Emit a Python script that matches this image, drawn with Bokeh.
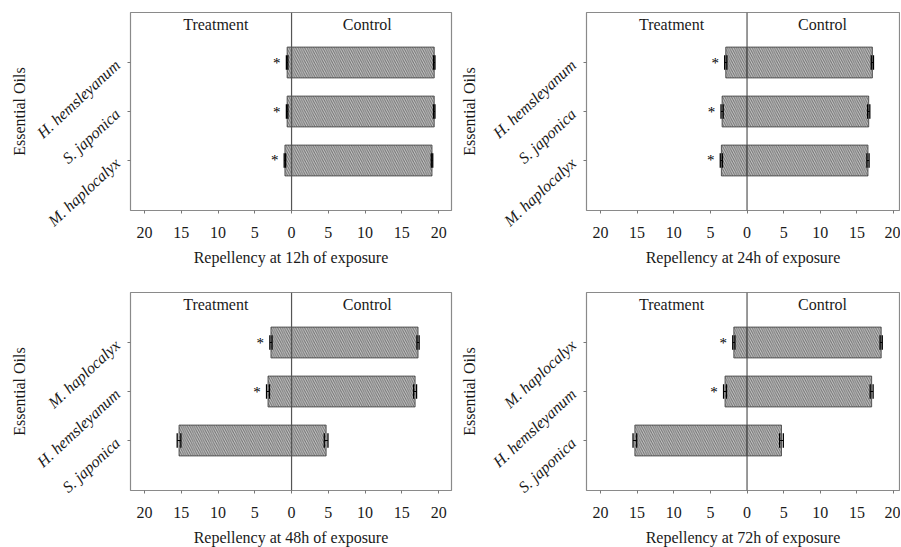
from bokeh.plotting import figure
from bokeh.layouts import column, row
from bokeh.models import FactorRange, Range1d, FixedTicker, Span, Label, ColumnDataSource
from bokeh.embed import file_html
from bokeh.resources import INLINE
from bokeh.core.properties import value

# ---- data (bottom -> top) ----
oils_12 = ["M. haplocalyx", "S. japonica", "H. hemsleyanum"]
treat_12 = [0.9, 0.6, 0.6]
ctrl_12 = [19.1, 19.4, 19.4]
treat_se_12 = [0.1, 0.1, 0.1]
ctrl_se_12 = [0.1, 0.1, 0.1]
sig_12 = [True, True, True]

oils_24 = ["M. haplocalyx", "S. japonica", "H. hemsleyanum"]
treat_24 = [3.5, 3.4, 2.9]
ctrl_24 = [16.5, 16.6, 17.1]
treat_se_24 = [0.15, 0.15, 0.15]
ctrl_se_24 = [0.15, 0.15, 0.15]
sig_24 = [True, True, True]

oils_48 = ["S. japonica", "H. hemsleyanum", "M. haplocalyx"]
treat_48 = [15.3, 3.2, 2.8]
ctrl_48 = [4.7, 16.8, 17.2]
treat_se_48 = [0.25, 0.2, 0.15]
ctrl_se_48 = [0.25, 0.2, 0.15]
sig_48 = [False, True, True]

oils_72 = ["S. japonica", "H. hemsleyanum", "M. haplocalyx"]
treat_72 = [15.3, 3.0, 1.8]
ctrl_72 = [4.7, 17.0, 18.3]
treat_se_72 = [0.25, 0.2, 0.15]
ctrl_se_72 = [0.25, 0.2, 0.15]
sig_72 = [False, True, True]

hours = ["12h", "24h", "48h", "72h"]
tick_values = [-20, -15, -10, -5, 0, 5, 10, 15, 20]
tick_labels = ["20", "15", "10", "5", "0", "5", "10", "15", "20"]
side_labels = ["Treatment", "Control"]

SERIF = "'Liberation Serif', 'Times New Roman', serif"
TXT = "#1a1a1a"


def panel(oils, treat, ctrl, tse, cse, sig, hour, x_end, fw, left_b, right_b, top_b, bottom_b, ylab_standoff):
    p = figure(
        y_range=FactorRange(factors=oils, range_padding=0.347),
        x_range=Range1d(-21.9, x_end),
        frame_width=fw, frame_height=198,
        min_border_left=left_b, min_border_right=right_b,
        min_border_top=top_b, min_border_bottom=bottom_b,
        output_backend="svg", toolbar_location=None,
    )
    p.outline_line_color = "#8a8a8a"
    p.outline_line_width = 1.2
    p.grid.visible = False
    p.background_fill_color = "white"
    p.border_fill_color = "white"

    neg = [-t for t in treat]
    src = ColumnDataSource(dict(y=oils, neg=neg, ctrl=ctrl, zero=[0] * len(oils)))
    for l, r in (("neg", "zero"), ("zero", "ctrl")):
        p.hbar(y="y", left=l, right=r, height=0.63, source=src,
               fill_color="#c6c6c6", line_color="#3a3a3a", line_width=0.8,
               hatch_pattern="\\", hatch_color="#707070", hatch_scale=4.5, hatch_weight=1.0)

    # error bars
    for vals, ses, sign in ((treat, tse, -1), (ctrl, cse, 1)):
        lo = [sign * v - s for v, s in zip(vals, ses)]
        hi = [sign * v + s for v, s in zip(vals, ses)]
        p.segment(x0=lo, x1=hi, y0=oils, y1=oils, line_color="black", line_width=1.2)
        for xs in (lo, hi):
            p.segment(x0=xs, x1=xs, y0=[(o, -0.15) for o in oils], y1=[(o, 0.15) for o in oils],
                      line_color="black", line_width=1.3)

    # significance stars
    star_x = [-(t + s) - 1.3 for t, s, g in zip(treat, tse, sig) if g]
    star_y = [o for o, g in zip(oils, sig) if g]
    p.text(x=star_x, y=star_y, text=["*"] * len(star_x), text_align="center",
           text_baseline="middle", text_font=value(SERIF), text_font_size="15px",
           text_color="black")

    p.add_layout(Span(location=0, dimension="height", line_color="#555555", line_width=1.2))

    for xl, txt in zip((-10.3, 10.3), side_labels):
        p.add_layout(Label(x=xl, y=3.27, text=txt, text_align="center", text_baseline="middle",
                           text_font=SERIF, text_font_size="16px", text_color=TXT))

    xa = p.xaxis[0]
    xa.ticker = FixedTicker(ticks=tick_values)
    xa.major_label_overrides = {v: l for v, l in zip(tick_values, tick_labels)}
    xa.axis_label = "Repellency at " + hour + " of exposure"
    ya = p.yaxis[0]
    ya.axis_label = "Essential Oils"
    ya.major_label_orientation = 0.75
    ya.major_label_text_font_style = "italic"
    for ax in (xa, ya):
        ax.axis_line_color = None
        ax.major_tick_in = 0
        ax.major_tick_out = 3
        ax.major_tick_line_color = "#777777"
        ax.minor_tick_line_color = None
        ax.major_label_text_font = SERIF
        ax.major_label_text_font_size = "16px"
        ax.major_label_text_color = TXT
        ax.axis_label_text_font = SERIF
        ax.axis_label_text_font_size = "16px"
        ax.axis_label_text_font_style = "normal"
        ax.axis_label_text_color = TXT
    xa.major_label_standoff = 13
    xa.axis_label_standoff = 8
    ya.major_label_standoff = 10
    ya.axis_label_standoff = ylab_standoff
    return p


p1 = panel(oils_12, treat_12, ctrl_12, treat_se_12, ctrl_se_12, sig_12, hours[0], 21.75, 321, 130, 3, 12, 70, -3)
p2 = panel(oils_24, treat_24, ctrl_24, treat_se_24, ctrl_se_24, sig_24, hours[1], 20.8, 313, 132, 1, 12, 70, 3)
p3 = panel(oils_48, treat_48, ctrl_48, treat_se_48, ctrl_se_48, sig_48, hours[2], 21.75, 321, 130, 3, 12, 55, -3)
p4 = panel(oils_72, treat_72, ctrl_72, treat_se_72, ctrl_se_72, sig_72, hours[3], 20.8, 313, 132, 1, 12, 55, 3)

layout = column(row(p1, p2), row(p3, p4))
open("out.html", "w").write(file_html(layout, INLINE))
